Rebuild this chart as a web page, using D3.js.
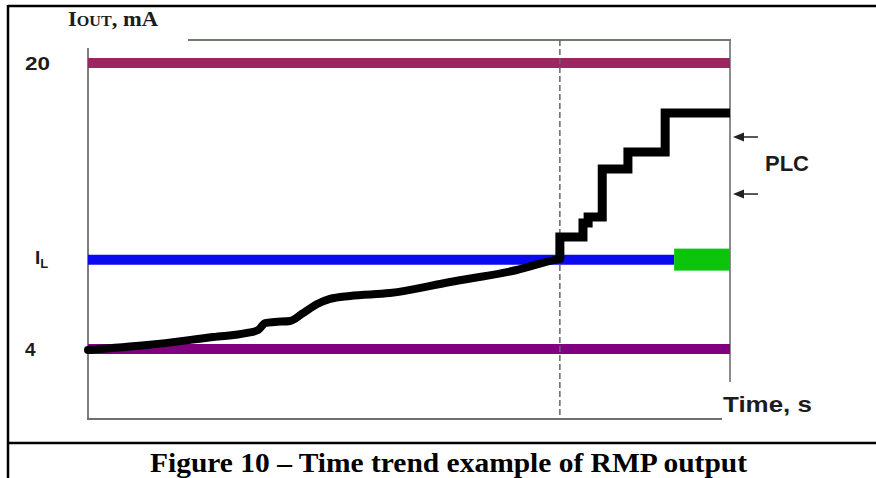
<!DOCTYPE html>
<html>
<head>
<meta charset="utf-8">
<script src="https://cdn.jsdelivr.net/npm/d3@7"></script>
<style>
  html, body { margin: 0; padding: 0; background: #fff; }
  svg { display: block; }
</style>
</head>
<body>
<svg id="chart" width="876" height="478"></svg>
<script>
// ---------- data ----------
const yTickValues = [4, 9, 20];            // 4 mA, I_L, 20 mA
const yTickLabels = ["4", "IL", "20"];
const levelTop = 20;                        // 20 mA line
const levelBottom = 4;                      // 4 mA line
const levelIL = 9;                          // I_L line
const greenStartT = 91.3;                   // where I_L line becomes the green band
const dashedT = 73.5;                       // time of the dashed marker

// smooth ramp (time, mA)
const rampT = [0, 9.2, 19.5, 24.8, 26.5, 27.6, 29.1, 31.5, 33.3, 35.7, 37.7, 40.8, 47.0, 56.4, 66.8, 73.0, 73.5];
const rampI = [3.95, 4.22, 4.67, 4.90, 5.06, 5.45, 5.51, 5.57, 5.96, 6.52, 6.80, 6.97, 7.13, 7.75, 8.42, 9.00, 9.03];

// stepped part (time, mA)
const stepT = [73.5, 73.5, 77.1, 77.9, 80.1, 84.1, 89.9, 100];
const stepI = [9.03, 10.27, 11.05, 11.38, 14.07, 15.02, 17.2, 17.2];

// PLC limit arrows (mA)
const plcLevels = [15.86, 12.67];

// ---------- layout ----------
const svg = d3.select("#chart");
const x = d3.scaleLinear().domain([0, 100]).range([88, 730]);
const y = d3.scaleLinear().domain([4, 20]).range([349, 63]);

const gray = "#6f6f6f";
const txt = "#1c1c1c";

// outer frame
svg.append("line").attr("x1", 8).attr("x2", 876).attr("y1", 6).attr("y2", 6)
  .attr("stroke", "#000").attr("stroke-width", 2.5);
svg.append("line").attr("x1", 8).attr("x2", 8).attr("y1", 5).attr("y2", 478)
  .attr("stroke", "#000").attr("stroke-width", 2.5);
svg.append("line").attr("x1", 8).attr("x2", 876).attr("y1", 443).attr("y2", 443)
  .attr("stroke", "#000").attr("stroke-width", 2.5);

// axes lines
svg.append("line").attr("x1", 88).attr("x2", 88).attr("y1", 48).attr("y2", 419)
  .attr("stroke", gray).attr("stroke-width", 1.8);
svg.append("line").attr("x1", 87).attr("x2", 722).attr("y1", 419).attr("y2", 419)
  .attr("stroke", gray).attr("stroke-width", 1.8);
svg.append("line").attr("x1", 188).attr("x2", 731).attr("y1", 40).attr("y2", 40)
  .attr("stroke", "#6f7a70").attr("stroke-width", 2);
svg.append("line").attr("x1", x(100)).attr("x2", x(100)).attr("y1", 40).attr("y2", 382)
  .attr("stroke", gray).attr("stroke-width", 1.6);

// y axis labels via d3 axis
const yAxis = d3.axisLeft(y).tickValues(yTickValues).tickSize(0)
  .tickFormat((d, i) => yTickLabels[i]);
const gy = svg.append("g").attr("transform", "translate(88,0)").call(yAxis);
gy.select(".domain").remove();
gy.selectAll("text")
  .attr("x", -63).attr("text-anchor", "start").attr("dy", "0.36em")
  .attr("fill", txt)
  .style("font-family", "'Liberation Sans', Arial, sans-serif")
  .style("font-weight", "bold").style("font-size", "19px");
gy.selectAll(".tick").filter(d => d === 20).select("text")
  .attr("textLength", 25).attr("lengthAdjust", "spacingAndGlyphs");
gy.selectAll(".tick").filter(d => d === 9).select("text")
  .text(null).attr("x", -53).attr("dy", "0.2em")
  .call(t => {
    t.append("tspan").style("font-size", "19px").text("I");
    t.append("tspan").style("font-size", "13px").attr("dy", "4").text("L");
  });

// horizontal levels
svg.append("line").attr("x1", x(0)).attr("x2", x(100)).attr("y1", y(levelTop)).attr("y2", y(levelTop))
  .attr("stroke", "#9c2662").attr("stroke-width", 10);
svg.append("line").attr("x1", x(0)).attr("x2", x(greenStartT)).attr("y1", y(levelIL)).attr("y2", y(levelIL))
  .attr("stroke", "#0a0af0").attr("stroke-width", 10);
svg.append("rect").attr("x", x(greenStartT)).attr("width", x(100) - x(greenStartT))
  .attr("y", y(levelIL) - 11).attr("height", 22).attr("fill", "#0cc40c");
svg.append("line").attr("x1", x(0)).attr("x2", x(100)).attr("y1", y(levelBottom)).attr("y2", y(levelBottom))
  .attr("stroke", "#800080").attr("stroke-width", 10);

// dashed marker
svg.append("line").attr("x1", x(dashedT)).attr("x2", x(dashedT)).attr("y1", 40).attr("y2", 419)
  .attr("stroke", "#666").attr("stroke-width", 1.5).attr("stroke-dasharray", "6,3");

// ramp curve
const ramp = rampT.map((t, i) => [t, rampI[i]]);
svg.append("path").datum(ramp)
  .attr("d", d3.line().x(d => x(d[0])).y(d => y(d[1])).curve(d3.curveMonotoneX))
  .attr("fill", "none").attr("stroke", "#000").attr("stroke-width", 8)
  .attr("stroke-linecap", "round").attr("stroke-linejoin", "round");

// step curve
const steps = stepT.map((t, i) => [t, stepI[i]]);
svg.append("path").datum(steps)
  .attr("d", d3.line().x(d => x(d[0])).y(d => y(d[1])).curve(d3.curveStepAfter))
  .attr("fill", "none").attr("stroke", "#000").attr("stroke-width", 9)
  .attr("stroke-linecap", "butt").attr("stroke-linejoin", "miter");

// PLC arrows
svg.selectAll(".plcline").data(plcLevels).join("line")
  .attr("x1", 758).attr("x2", 742)
  .attr("y1", d => y(d)).attr("y2", d => y(d))
  .attr("stroke", "#222").attr("stroke-width", 1.5);
svg.selectAll(".plchead").data(plcLevels).join("path")
  .attr("d", d => `M733,${y(d)} L744,${y(d) - 4.5} L744,${y(d) + 4.5} Z`)
  .attr("fill", "#222");
svg.append("text").attr("x", 765).attr("y", y(d3.mean(plcLevels)) - 2).attr("dy", "0.36em")
  .attr("fill", txt)
  .style("font-family", "'Liberation Sans', Arial, sans-serif")
  .style("font-weight", "bold").style("font-size", "22px")
  .text("PLC");

// axis titles
const title = svg.append("text").attr("x", 68).attr("y", 26).attr("fill", txt)
  .attr("textLength", 90).attr("lengthAdjust", "spacingAndGlyphs")
  .style("font-family", "'Liberation Serif', 'Times New Roman', serif")
  .style("font-weight", "bold");
title.append("tspan").style("font-size", "21px").text("I");
title.append("tspan").style("font-size", "15px").text("OUT");
title.append("tspan").style("font-size", "21px").text(", mA");

svg.append("text").attr("x", 723).attr("y", 412).attr("fill", txt)
  .attr("textLength", 89).attr("lengthAdjust", "spacingAndGlyphs")
  .style("font-family", "'Liberation Sans', Arial, sans-serif")
  .style("font-weight", "bold").style("font-size", "22px")
  .text("Time, s");

// caption
svg.append("text").attr("x", 150).attr("y", 472).attr("fill", "#000")
  .attr("textLength", 597).attr("lengthAdjust", "spacingAndGlyphs")
  .style("font-family", "'Liberation Serif', 'Times New Roman', serif")
  .style("font-weight", "bold").style("font-size", "27px")
  .text("Figure 10 – Time trend example of RMP output");
</script>
</body>
</html>
